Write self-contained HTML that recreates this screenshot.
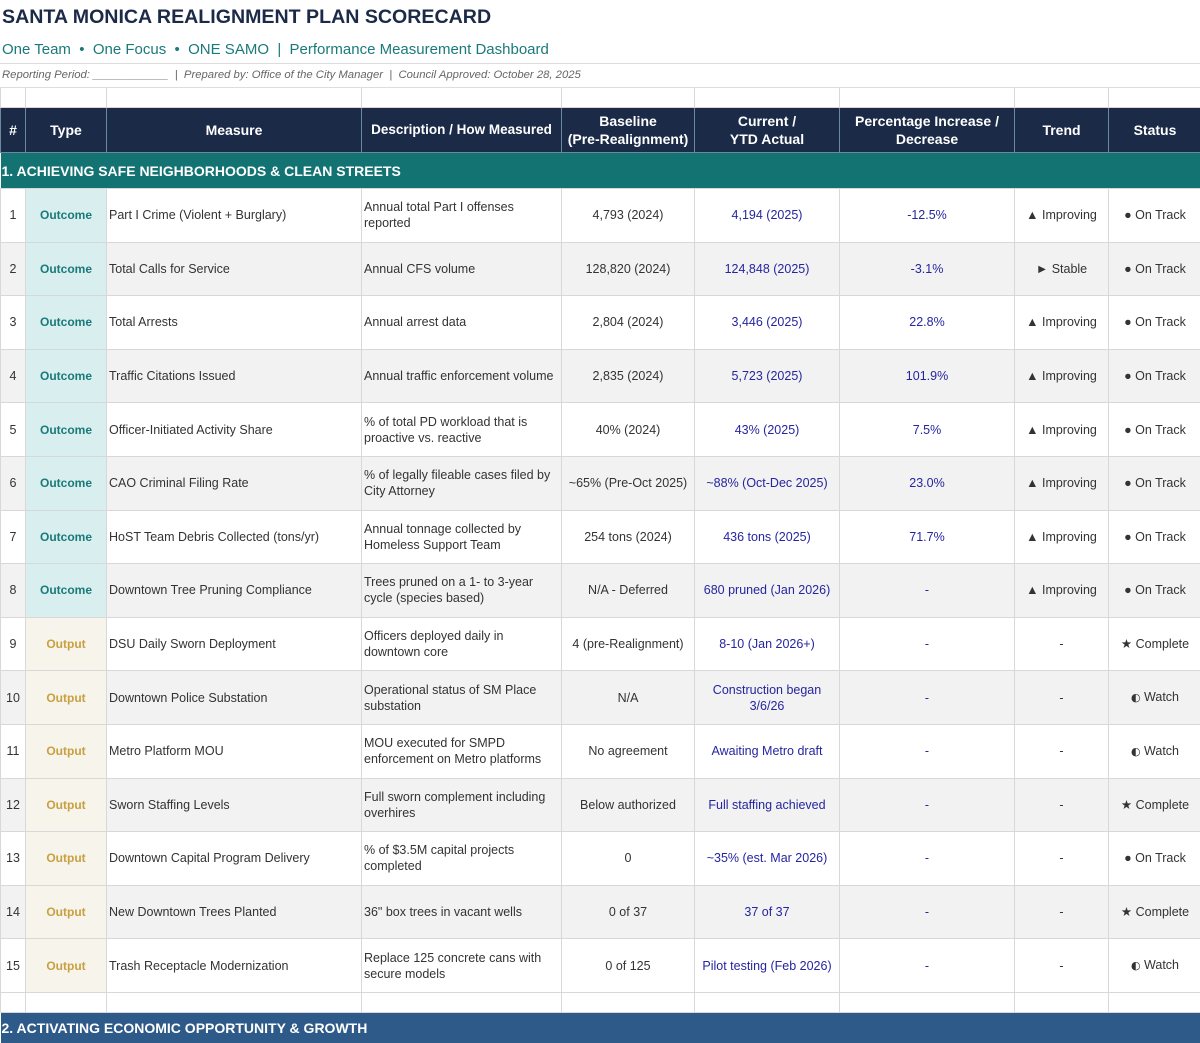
<!DOCTYPE html>
<html><head><meta charset="utf-8"><style>
body{margin:0;width:1200px;height:1043px;overflow:hidden;background:#fff;font-family:"Liberation Sans",Arial,sans-serif;position:relative}
.t{position:absolute;left:2px;top:6px;font-size:19.6px;font-weight:bold;color:#1b2a47}
.s{position:absolute;left:2px;top:41px;font-size:15px;color:#1a7a7a}
.r{position:absolute;left:2px;top:69px;font-size:11.3px;font-style:italic;color:#666}
.l1{position:absolute;left:0;top:63px;width:1200px;border-top:1px solid #ddd}
.l2{position:absolute;left:0;top:87px;width:1200px;border-top:1px solid #ddd}
table{position:absolute;left:0;top:88px;border-collapse:collapse;table-layout:fixed;width:1201px}
td{border:1px solid #d8d8d8;font-size:12.5px;color:#333;padding:0 2px;overflow:hidden;text-align:center}
tr.e td{height:19px;border-top:none}
tr.h td{background:#1b2a47;color:#fff;font-weight:bold;font-size:14px;height:44px;border-color:#6a8aa0;line-height:18px}
tr.sec td{background:#137373;color:#fff;font-weight:bold;font-size:14px;height:35px;text-align:left;padding-left:1px;border:none}
tr.sec2 td{background:#2e5a8a;color:#fff;font-weight:bold;font-size:14px;height:30px;text-align:left;padding-left:1px;border:none}
tr.d td{height:52.6px;line-height:16px}
tr.d:nth-child(odd) td{background:#f2f2f2}
td.m,td.ds{text-align:left}
td.oc{background:#d9eeee!important;color:#1a7a7a;font-weight:bold;font-size:12px}
td.op{background:#f7f4ec!important;color:#c9a040;font-weight:bold;font-size:12px}
td.b{color:#2525a0}
.g{font-family:"DejaVu Sans",sans-serif;font-size:11px}
</style></head><body>
<div class="t">SANTA MONICA REALIGNMENT PLAN SCORECARD</div>
<div class="s">One Team &nbsp;•&nbsp; One Focus &nbsp;•&nbsp; ONE SAMO &nbsp;|&nbsp; Performance Measurement Dashboard</div>
<div class="l1"></div>
<div class="r">Reporting Period: ____________ &nbsp;| &nbsp;Prepared by: Office of the City Manager &nbsp;| &nbsp;Council Approved: October 28, 2025</div>
<div class="l2"></div>
<table>
<colgroup><col style="width:25px"><col style="width:81px"><col style="width:255px"><col style="width:200px"><col style="width:133px"><col style="width:145px"><col style="width:175px"><col style="width:94px"><col style="width:93px"></colgroup>
<tr class="e"><td></td><td></td><td></td><td></td><td></td><td></td><td></td><td></td><td></td></tr>
<tr class="h"><td>#</td><td>Type</td><td>Measure</td><td style="font-size:13.5px">Description / How Measured</td><td>Baseline<br>(Pre-Realignment)</td><td>Current /<br>YTD Actual</td><td>Percentage Increase /<br>Decrease</td><td>Trend</td><td>Status</td></tr>
<tr class="sec"><td colspan="9">1. ACHIEVING SAFE NEIGHBORHOODS &amp; CLEAN STREETS</td></tr>
<tr class="d"><td>1</td><td class="oc">Outcome</td><td class="m">Part I Crime (Violent + Burglary)</td><td class="ds">Annual total Part I offenses reported</td><td>4,793 (2024)</td><td class="b">4,194 (2025)</td><td class="b">-12.5%</td><td>▲ Improving</td><td>● On Track</td></tr>
<tr class="d"><td>2</td><td class="oc">Outcome</td><td class="m">Total Calls for Service</td><td class="ds">Annual CFS volume</td><td>128,820 (2024)</td><td class="b">124,848 (2025)</td><td class="b">-3.1%</td><td>► Stable</td><td>● On Track</td></tr>
<tr class="d"><td>3</td><td class="oc">Outcome</td><td class="m">Total Arrests</td><td class="ds">Annual arrest data</td><td>2,804 (2024)</td><td class="b">3,446 (2025)</td><td class="b">22.8%</td><td>▲ Improving</td><td>● On Track</td></tr>
<tr class="d"><td>4</td><td class="oc">Outcome</td><td class="m">Traffic Citations Issued</td><td class="ds">Annual traffic enforcement volume</td><td>2,835 (2024)</td><td class="b">5,723 (2025)</td><td class="b">101.9%</td><td>▲ Improving</td><td>● On Track</td></tr>
<tr class="d"><td>5</td><td class="oc">Outcome</td><td class="m">Officer-Initiated Activity Share</td><td class="ds">% of total PD workload that is proactive vs. reactive</td><td>40% (2024)</td><td class="b">43% (2025)</td><td class="b">7.5%</td><td>▲ Improving</td><td>● On Track</td></tr>
<tr class="d"><td>6</td><td class="oc">Outcome</td><td class="m">CAO Criminal Filing Rate</td><td class="ds">% of legally fileable cases filed by City Attorney</td><td>~65% (Pre-Oct 2025)</td><td class="b">~88% (Oct-Dec 2025)</td><td class="b">23.0%</td><td>▲ Improving</td><td>● On Track</td></tr>
<tr class="d"><td>7</td><td class="oc">Outcome</td><td class="m">HoST Team Debris Collected (tons/yr)</td><td class="ds">Annual tonnage collected by Homeless Support Team</td><td>254 tons (2024)</td><td class="b">436 tons (2025)</td><td class="b">71.7%</td><td>▲ Improving</td><td>● On Track</td></tr>
<tr class="d"><td>8</td><td class="oc">Outcome</td><td class="m">Downtown Tree Pruning Compliance</td><td class="ds">Trees pruned on a 1- to 3-year cycle (species based)</td><td>N/A - Deferred</td><td class="b">680 pruned (Jan 2026)</td><td class="b">-</td><td>▲ Improving</td><td>● On Track</td></tr>
<tr class="d"><td>9</td><td class="op">Output</td><td class="m">DSU Daily Sworn Deployment</td><td class="ds">Officers deployed daily in downtown core</td><td>4 (pre-Realignment)</td><td class="b">8-10 (Jan 2026+)</td><td class="b">-</td><td>-</td><td>★ Complete</td></tr>
<tr class="d"><td>10</td><td class="op">Output</td><td class="m">Downtown Police Substation</td><td class="ds">Operational status of SM Place substation</td><td>N/A</td><td class="b">Construction began<br>3/6/26</td><td class="b">-</td><td>-</td><td><span class="g">◐</span> Watch</td></tr>
<tr class="d"><td>11</td><td class="op">Output</td><td class="m">Metro Platform MOU</td><td class="ds">MOU executed for SMPD enforcement on Metro platforms</td><td>No agreement</td><td class="b">Awaiting Metro draft</td><td class="b">-</td><td>-</td><td><span class="g">◐</span> Watch</td></tr>
<tr class="d"><td>12</td><td class="op">Output</td><td class="m">Sworn Staffing Levels</td><td class="ds">Full sworn complement including overhires</td><td>Below authorized</td><td class="b">Full staffing achieved</td><td class="b">-</td><td>-</td><td>★ Complete</td></tr>
<tr class="d"><td>13</td><td class="op">Output</td><td class="m">Downtown Capital Program Delivery</td><td class="ds">% of $3.5M capital projects completed</td><td>0</td><td class="b">~35% (est. Mar 2026)</td><td class="b">-</td><td>-</td><td>● On Track</td></tr>
<tr class="d"><td>14</td><td class="op">Output</td><td class="m">New Downtown Trees Planted</td><td class="ds">36" box trees in vacant wells</td><td>0 of 37</td><td class="b">37 of 37</td><td class="b">-</td><td>-</td><td>★ Complete</td></tr>
<tr class="d"><td>15</td><td class="op">Output</td><td class="m">Trash Receptacle Modernization</td><td class="ds">Replace 125 concrete cans with secure models</td><td>0 of 125</td><td class="b">Pilot testing (Feb 2026)</td><td class="b">-</td><td>-</td><td><span class="g">◐</span> Watch</td></tr>
<tr class="e"><td></td><td></td><td></td><td></td><td></td><td></td><td></td><td></td><td></td></tr>
<tr class="sec2"><td colspan="9">2. ACTIVATING ECONOMIC OPPORTUNITY &amp; GROWTH</td></tr>
</table>
</body></html>
